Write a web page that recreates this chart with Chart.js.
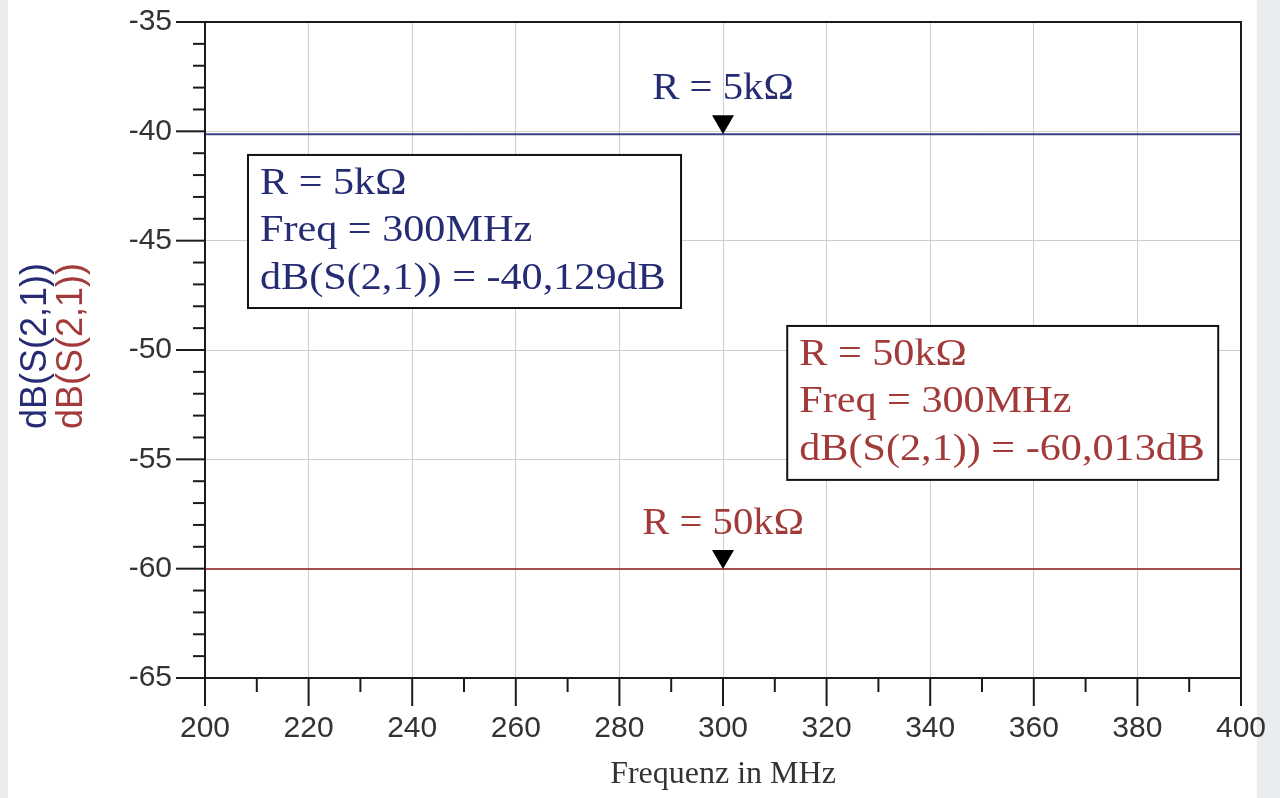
<!DOCTYPE html>
<html>
<head>
    <script src="https://cdn.jsdelivr.net/npm/chart.js@4.4.1/dist/chart.umd.min.js"></script>
    <style>
        body { margin: 0; background: #e9edf0; }
        #wrap { width: 1280px; height: 798px; background: linear-gradient(to right, #e9edf0 0 8px, #ffffff 8px 1257px, #e9edf0 1257px); }
    </style>
</head>
<body>
    <div id="wrap"><canvas id="grafico" width="1280" height="798"></canvas></div>

    <script>
        // frequenze (MHz) e valori dB(S(2,1))
        const freq = [200, 250, 300, 350, 400];
        const s21_5k = [-40.129, -40.129, -40.129, -40.129, -40.129];
        const s21_50k = [-60.013, -60.013, -60.013, -60.013, -60.013];
        const xTicks = [200, 220, 240, 260, 280, 300, 320, 340, 360, 380, 400];
        const yTicks = [-35, -40, -45, -50, -55, -60, -65];
        const markerFreq = 300;
        const markerLabels = ['R = 5k\u03A9', 'R = 50k\u03A9'];
        const boxText5k = ['R = 5k\u03A9', 'Freq = 300MHz', 'dB(S(2,1)) = -40,129dB'];
        const boxText50k = ['R = 50k\u03A9', 'Freq = 300MHz', 'dB(S(2,1)) = -60,013dB'];

        const BLU = '#252c74';
        const ROSSO = '#a33a3a';
        const BLU_LINEA = '#3b3f86';
        const ROSSO_LINEA = '#a94e4e';

        function testo(ctx, s, x, y, col, align, sx) {
            ctx.save();
            ctx.font = '37px "Liberation Serif", serif';
            ctx.fillStyle = col;
            ctx.textBaseline = 'alphabetic';
            ctx.translate(x, y);
            ctx.scale(sx || 1.14, 1);
            let w = ctx.measureText(s).width;
            ctx.fillText(s, align === 'center' ? -w / 2 : 0, 0);
            ctx.restore();
        }

        function riquadro(ctx, xs, ys, x1, y1, x2, y2, righe, col) {
            let l = xs.getPixelForValue(x1), r = xs.getPixelForValue(x2);
            let t = ys.getPixelForValue(y1), b = ys.getPixelForValue(y2);
            ctx.save();
            ctx.fillStyle = '#fff';
            ctx.fillRect(l, t, r - l, b - t);
            ctx.strokeStyle = '#111';
            ctx.lineWidth = 2;
            ctx.strokeRect(l, t, r - l, b - t);
            ctx.restore();
            righe.forEach((s, i) => testo(ctx, s, l + 12, t + 39 + i * 47.5, col));
        }

        const extra = {
            id: 'extra',
            afterDraw(chart) {
                const ctx = chart.ctx;
                const xs = chart.scales.x, ys = chart.scales.y;
                const a = chart.chartArea;

                // cornice
                ctx.save();
                ctx.strokeStyle = '#1a1a1a';
                ctx.lineWidth = 2;
                ctx.strokeRect(a.left, a.top, a.right - a.left, a.bottom - a.top);

                // tacche asse y
                for (let v = -65; v <= -35; v++) {
                    let y = ys.getPixelForValue(v);
                    let len = v % 5 === 0 ? 29 : 12;
                    ctx.beginPath();
                    ctx.moveTo(a.left - len, y);
                    ctx.lineTo(a.left, y);
                    ctx.stroke();
                }
                // tacche asse x
                for (let f = 200; f <= 400; f += 10) {
                    let x = xs.getPixelForValue(f);
                    let len = f % 20 === 0 ? 28 : 14;
                    ctx.beginPath();
                    ctx.moveTo(x, a.bottom);
                    ctx.lineTo(x, a.bottom + len);
                    ctx.stroke();
                }
                ctx.restore();

                // marker
                [[s21_5k, BLU, markerLabels[0]], [s21_50k, ROSSO, markerLabels[1]]].forEach(([serie, col, lab]) => {
                    let i = freq.indexOf(markerFreq);
                    let x = xs.getPixelForValue(markerFreq);
                    let y = ys.getPixelForValue(serie[i]);
                    ctx.save();
                    ctx.fillStyle = '#000';
                    ctx.beginPath();
                    ctx.moveTo(x, y);
                    ctx.lineTo(x - 11, y - 19);
                    ctx.lineTo(x + 11, y - 19);
                    ctx.closePath();
                    ctx.fill();
                    ctx.restore();
                    testo(ctx, lab, x, y - 35, col, 'center', 1.1);
                });

                // riquadri dei marker
                riquadro(ctx, xs, ys, 208.3, -41.08, 291.9, -48.08, boxText5k, BLU);
                riquadro(ctx, xs, ys, 312.4, -48.9, 395.6, -55.94, boxText50k, ROSSO);

                // titolo asse y (due colori)
                ctx.save();
                ctx.font = '36px "Liberation Sans", Arial, sans-serif';
                ctx.textAlign = 'center';
                ctx.textBaseline = 'middle';
                ctx.translate(36, 346);
                ctx.rotate(-Math.PI / 2);
                ctx.fillStyle = BLU;
                ctx.fillText('dB(S(2,1))', 0, 0);
                ctx.fillStyle = ROSSO;
                ctx.fillText('dB(S(2,1))', 0, 36);
                ctx.restore();

                // titolo asse x
                ctx.save();
                ctx.font = '32px "Liberation Serif", serif';
                ctx.fillStyle = '#333';
                ctx.textAlign = 'center';
                ctx.textBaseline = 'middle';
                ctx.fillText('Frequenz in MHz', xs.getPixelForValue(300), 775);
                ctx.restore();
            }
        };

        let ctx = document.getElementById('grafico').getContext('2d');
        let grafico = new Chart(ctx, {
            type: 'line',
            data: {
                datasets: [{
                    label: 'R = 5k\u03A9',
                    data: freq.map((f, i) => ({x: f, y: s21_5k[i]})),
                    borderColor: BLU_LINEA,
                    borderWidth: 2,
                    pointRadius: 0
                }, {
                    label: 'R = 50k\u03A9',
                    data: freq.map((f, i) => ({x: f, y: s21_50k[i]})),
                    borderColor: ROSSO_LINEA,
                    borderWidth: 2,
                    pointRadius: 0
                }]
            },
            options: {
                responsive: false,
                animation: false,
                layout: {padding: {left: 0, top: 22, right: 39, bottom: 0}},
                plugins: {legend: {display: false}, tooltip: {enabled: false}},
                scales: {
                    x: {
                        type: 'linear',
                        min: 200,
                        max: 400,
                        afterBuildTicks: s => { s.ticks = xTicks.map(v => ({value: v})); },
                        afterFit: s => { s.height = 120; s.paddingLeft = 0; s.paddingRight = 0; },
                        grid: {color: '#cdcdcd', lineWidth: 1, drawTicks: false},
                        border: {display: true, color: '#1a1a1a', width: 2},
                        ticks: {color: '#333', padding: 33, maxRotation: 0,
                            font: {family: '"Liberation Sans", Arial, sans-serif', size: 30}}
                    },
                    y: {
                        min: -65,
                        max: -35,
                        afterBuildTicks: s => { s.ticks = yTicks.map(v => ({value: v})); },
                        afterFit: s => { s.width = 205; s.paddingTop = 0; s.paddingBottom = 0; },
                        grid: {color: '#cdcdcd', lineWidth: 1, drawTicks: false},
                        border: {display: true, color: '#1a1a1a', width: 2},
                        ticks: {color: '#333', padding: 33,
                            font: {family: '"Liberation Sans", Arial, sans-serif', size: 30}}
                    }
                }
            },
            plugins: [extra]
        });
    </script>
</body>
</html>
